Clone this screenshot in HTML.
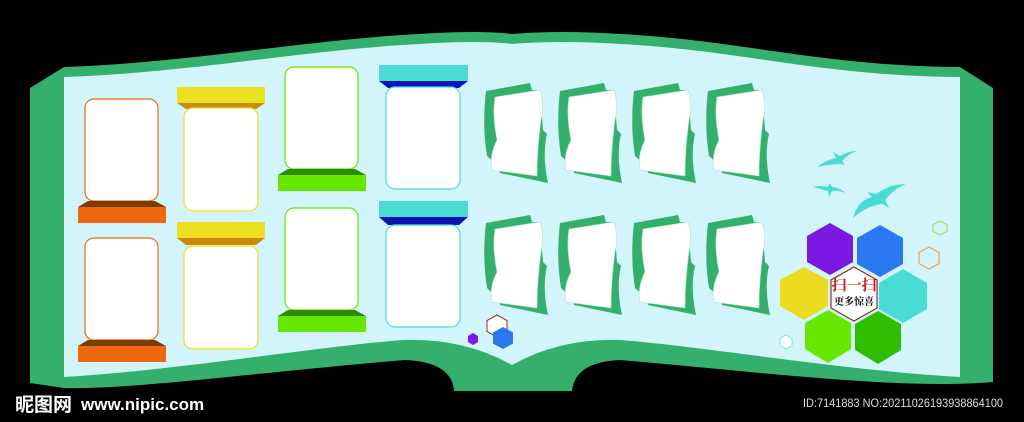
<!DOCTYPE html>
<html><head><meta charset="utf-8"><style>
html,body{margin:0;padding:0;background:#000;}
svg{display:block;}
</style></head><body>
<svg width="1024" height="422" viewBox="0 0 1024 422" xmlns="http://www.w3.org/2000/svg">
<rect width="1024" height="422" fill="#000"/>
<!-- book green -->
<path d="M30,88 L64,67 C200,62 300,40 420,34 Q480,30 512,34 Q560,30 620,34 C740,40 820,66 960,67 L993,88 L993,382 C900,390 760,372 620,360 Q575,362 572,391 L454,391 Q452,362 405,360 C260,372 130,390 64,388 L30,383 Z" fill="#35b06c"/>
<!-- light page -->
<path d="M64,77 C200,72 300,50 420,44 Q480,40 512,44 Q560,40 620,44 C740,50 820,76 960,77 L960,377 C840,370 700,346 620,340 Q560,338 512,365 Q464,338 404,340 C320,346 180,370 64,377 Z" fill="#d2f5fc"/>

<!-- column 1 orange -->
<g>
<rect x="85" y="99" width="73" height="102" rx="9" fill="#fff" stroke="#ef6612" stroke-width="1.2"/>
<path d="M88,201 L155,201 L166,207 L78,207 Z" fill="#7a3d00"/>
<rect x="78" y="207" width="88" height="16" fill="#ef6612"/>
<rect x="85" y="238" width="73" height="102" rx="9" fill="#fff" stroke="#ef6612" stroke-width="1.2"/>
<path d="M88,340 L155,340 L166,346 L78,346 Z" fill="#7a3d00"/>
<rect x="78" y="346" width="88" height="16" fill="#ef6612"/>
</g>
<!-- column 2 yellow -->
<g>
<rect x="177" y="87" width="88" height="16" fill="#ebe021"/>
<path d="M177,103 L265,103 L256,109 L186,109 Z" fill="#c98a0b"/>
<rect x="184" y="108" width="74" height="103" rx="9" fill="#fff" stroke="#ebe021" stroke-width="1.2"/>
<rect x="177" y="222" width="88" height="16" fill="#ebe021"/>
<path d="M177,238 L265,238 L256,245 L186,245 Z" fill="#c98a0b"/>
<rect x="184" y="246" width="74" height="103" rx="9" fill="#fff" stroke="#ebe021" stroke-width="1.2"/>
</g>
<!-- column 3 green -->
<g>
<rect x="285" y="67" width="73" height="102" rx="9" fill="#fff" stroke="#66e800" stroke-width="1.2"/>
<path d="M288,169 L355,169 L366,175 L278,175 Z" fill="#2e8a00"/>
<rect x="278" y="175" width="88" height="16" fill="#66e800"/>
<rect x="285" y="208" width="73" height="102" rx="9" fill="#fff" stroke="#66e800" stroke-width="1.2"/>
<path d="M288,310 L355,310 L366,316 L278,316 Z" fill="#2e8a00"/>
<rect x="278" y="316" width="88" height="16" fill="#66e800"/>
</g>
<!-- column 4 cyan -->
<g>
<rect x="379" y="65" width="89" height="16" fill="#4adcd4"/>
<path d="M379,81 L468,81 L459,88 L388,88 Z" fill="#0a14b0"/>
<rect x="386" y="87" width="74" height="102" rx="9" fill="#fff" stroke="#4adcd4" stroke-width="1.2"/>
<rect x="379" y="201" width="89" height="16" fill="#4adcd4"/>
<path d="M379,217 L468,217 L459,225 L388,225 Z" fill="#0a14b0"/>
<rect x="386" y="225" width="74" height="102" rx="9" fill="#fff" stroke="#4adcd4" stroke-width="1.2"/>
</g>

<defs>
<g id="wf">
<path d="M16,21 L60,13 L62,20 L70,20 L73,60 L77,64 Q72,85 78,113 L30,103 L29,97 L17,86 Q12,55 16,21 Z" fill="#35b06c"/>
<path d="M25,27 L70,20 Q75,35 71,50 Q67,80 67,106 L22,100 Q19,85 27,70 Q22,45 25,27 Z" fill="#fff" stroke="#a8e6c8" stroke-width="0.6"/>
</g>
</defs>
<use href="#wf" x="470" y="70"/>
<use href="#wf" x="544" y="70"/>
<use href="#wf" x="618" y="70"/>
<use href="#wf" x="692" y="70"/>
<use href="#wf" x="470" y="202"/>
<use href="#wf" x="544" y="202"/>
<use href="#wf" x="618" y="202"/>
<use href="#wf" x="692" y="202"/>

<!-- birds -->
<g fill="#4adcd4">
<path d="M817,167 Q826,160 836,158 L833,152 L840,156 Q848,151 857,151 Q848,154 842,161 L845,165 L840,164 Q830,164 817,167 Z"/>
<path d="M813,187 Q822,185 828,187 L830,183 L832,187 Q840,188 846,193 Q838,190 832,191 L829,197 L828,191 Q820,189 813,187 Z"/>
<path d="M853,218 Q858,200 872,197 L867,192 L876,194 Q890,184 906,184 Q895,188 885,200 L889,208 L882,204 Q866,206 853,218 Z"/>
</g>

<!-- hexagons -->
<g>
<polygon points="830,223 853,236 853,262 830,275 807,262 807,236" fill="#7c18e4"/>
<polygon points="880,225 903,238 903,264 880,277 857,264 857,238" fill="#2b77f0"/>
<polygon points="804,267 828,280 828,306 804,320 780,306 780,280" fill="#ebdc22"/>
<polygon points="903,269 927,283 927,309 903,323 879,309 879,283" fill="#4adcd4"/>
<polygon points="828,310 851,323 851,349 828,363 805,349 805,323" fill="#66e800"/>
<polygon points="878,311 901,324 901,350 878,364 855,350 855,324" fill="#2fbd00"/>
<polygon points="854,267 877,280 877,308 854,321 831,308 831,280" fill="#fff" stroke="#9a2a2a" stroke-width="1.2"/>
<text x="854" y="290" text-anchor="middle" font-family="Liberation Serif, 'Noto Serif CJK SC', serif" font-size="15" fill="#d01818" font-weight="bold">扫一扫</text>
<text x="854" y="305" text-anchor="middle" font-family="'Noto Serif CJK SC', serif" font-size="10" fill="#111" font-weight="bold">更多惊喜</text>
<polygon points="940,221 947,224.5 947,231.5 940,235 933,231.5 933,224.5" fill="none" stroke="#88e838" stroke-width="1"/>
<polygon points="929,247 939,252.5 939,263.5 929,269 919,263.5 919,252.5" fill="none" stroke="#f2a050" stroke-width="1.2"/>
<polygon points="786,335 792,338.5 792,345.5 786,349 780,345.5 780,338.5" fill="#fff" stroke="#7ae0e0" stroke-width="1"/>
<polygon points="497,315 507,320.5 507,331.5 497,337 487,331.5 487,320.5" fill="#fff" stroke="#9a2a2a" stroke-width="1"/>
<polygon points="503,327 513,332.5 513,343.5 503,349 493,343.5 493,332.5" fill="#2b77f0"/>
<polygon points="473,333 478,336 478,342 473,345 468,342 468,336" fill="#7c18e4"/>
</g>

<!-- watermark -->
<text x="15" y="411" font-family="'Noto Sans CJK SC', sans-serif" font-weight="bold" font-size="19" fill="#fff">昵图网</text>
<text x="81" y="410" font-family="Liberation Sans, sans-serif" font-weight="bold" font-size="17" fill="#fff">www.nipic.com</text>
<text x="803" y="407" font-family="Liberation Sans, sans-serif" font-size="12" fill="#ddd" textLength="200" lengthAdjust="spacingAndGlyphs">ID:7141883 NO:20211026193938864100</text>
</svg>
</body></html>
